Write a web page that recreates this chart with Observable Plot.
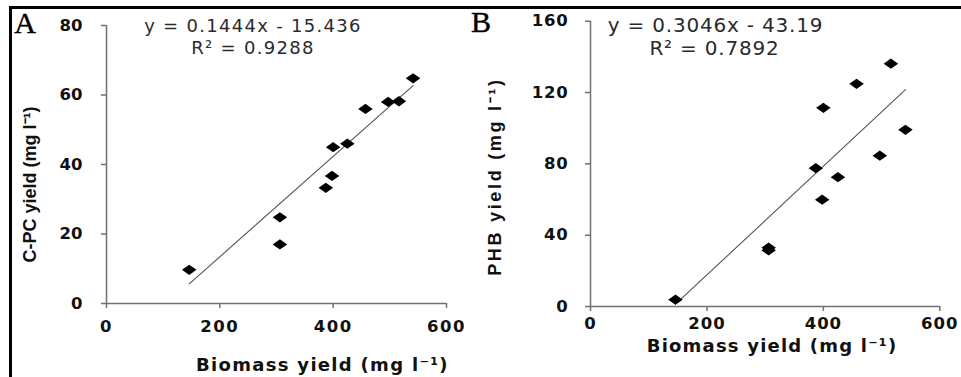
<!DOCTYPE html>
<html>
<head>
<meta charset="utf-8">
<script src="https://cdn.jsdelivr.net/npm/d3@7"></script>
<script src="https://cdn.jsdelivr.net/npm/@observablehq/plot@0.6"></script>
<style>
  html, body { margin: 0; padding: 0; background: #fff; }
  #root { position: relative; width: 961px; height: 377px; background: #fff; overflow: hidden; }
  #frame { position: absolute; left: 9px; top: 6px; width: 960px; height: 380px;
           border-top: 3px solid #000; border-left: 3px solid #000; }
  #pa { position: absolute; left: 0; top: 0; }
  #pb { position: absolute; left: 450px; top: 0; }
  svg { overflow: visible; }
</style>
</head>
<body>
<div id="root">
  <div id="frame"></div>
  <div id="pa"></div>
  <div id="pb"></div>
</div>
<script>
// ---- data ----
const biomass = [146, 306, 306, 387, 398, 400, 425, 457, 497, 516, 541];
const cpcYield = [9.7, 24.8, 17.0, 33.3, 36.7, 45.0, 46.0, 56.0, 58.0, 58.2, 64.8];
const phbYield = [3.8, 33.0, 31.5, 77.6, 59.9, 111.4, 72.5, 124.9, 84.6, 136.2, 99.1];

const xTicks = [0, 200, 400, 600];
const cpcTicks = [0, 20, 40, 60, 80];
const phbTicks = [0, 40, 80, 120, 160];

const slopes = [0.1444, 0.3046];
const intercepts = [-15.436, -43.19];
const eqLabels = ["y = 0.1444x - 15.436", "y = 0.3046x - 43.19"];
const r2Labels = ["R\u00B2 = 0.9288", "R\u00B2 = 0.7892"];
const yLabels = ["C-PC yield (mg l\u207B\u00B9)", "PHB yield (mg l\u207B\u00B9)"];
const xLabel = "Biomass yield (mg l\u207B\u00B9)";
const panelLetters = ["A", "B"];

// wide diamond marker
const wideDiamond = {
  draw(ctx, size) {
    const s = Math.sqrt(size);
    const w = s * 0.82, h = s * 0.58;
    ctx.moveTo(-w, 0); ctx.lineTo(0, -h); ctx.lineTo(w, 0); ctx.lineTo(0, h); ctx.closePath();
  }
};

const axisColor = "#707070";

function panel(o) {
  const lineData = d3.extent(biomass).map(x => ({x, y: o.slope * x + o.intercept}));
  const pts = biomass.map((x, i) => ({x, y: o.ys[i]}));
  const svg = Plot.plot({
    width: o.width, height: 377,
    marginLeft: o.ml, marginRight: o.mr, marginTop: o.mt, marginBottom: o.mb,
    style: {background: "transparent", fontFamily: "'DejaVu Sans', sans-serif", fontSize: "16px", color: "#111", overflow: "visible"},
    x: {domain: [0, 600]},
    y: {domain: o.yDomain},
    marks: [
      Plot.ruleX([0], {stroke: axisColor, strokeWidth: 1.5}),
      Plot.ruleY([0], {stroke: axisColor, strokeWidth: 1.5}),
      Plot.axisX({ticks: xTicks, tickSize: 5, tickPadding: o.xPad, stroke: axisColor, strokeWidth: 1.5,
        fill: "#111", fontWeight: "bold", fontSize: 16.5, fontFamily: "DejaVu Sans", label: null}),
      Plot.axisY({ticks: o.yTicks, tickSize: 5, tickPadding: o.yPad, stroke: axisColor, strokeWidth: 1.5,
        fill: "#111", fontWeight: "bold", fontSize: 16.5, fontFamily: "DejaVu Sans", label: null}),
      Plot.line(lineData, {x: "x", y: "y", stroke: "#555", strokeWidth: 1.1}),
      Plot.dot(pts, {x: "x", y: "y", r: 5, symbol: wideDiamond, fill: "#000", stroke: "none"}),
      Plot.text([o.letter], {frameAnchor: "top-left", dx: o.letterD[0], dy: o.letterD[1], textAnchor: "middle", lineAnchor: "middle",
        fontFamily: "'Liberation Serif', serif", fontSize: 30, fill: "#000", stroke: "#000", strokeWidth: 0.4}),
      Plot.text([o.ylab], {frameAnchor: "left", dx: o.ylabD[0], dy: o.ylabD[1], rotate: -90, textAnchor: "middle", lineAnchor: "middle",
        fontFamily: "'Liberation Sans', Arial, sans-serif", fontWeight: "bold", fontSize: 18, fill: "#111"}),
      Plot.text([xLabel], {frameAnchor: "bottom", dx: o.xlabD[0], dy: o.xlabD[1], textAnchor: "middle", lineAnchor: "middle",
        fontFamily: "'DejaVu Sans', sans-serif", fontWeight: "bold", fontSize: 18, fill: "#111"}),
      Plot.text([o.eq], {frameAnchor: "top-left", dx: o.eqD[0], dy: o.eqD[1], textAnchor: "middle", lineAnchor: "middle",
        fontFamily: "'DejaVu Sans', sans-serif", fontSize: o.eqSize, fill: "#2a2a2a"}),
      Plot.text([o.r2], {frameAnchor: "top-left", dx: o.r2D[0], dy: o.r2D[1], textAnchor: "middle", lineAnchor: "middle",
        fontFamily: "'DejaVu Sans', sans-serif", fontSize: o.eqSize, fill: "#2a2a2a"})
    ]
  });
  // letter spacing tweaks
  svg.querySelectorAll("text").forEach(t => {
    const s = t.textContent;
    if (s === xLabel) t.setAttribute("letter-spacing", o.xlabSpacing);
    else if (s === o.eq || s === o.r2) t.setAttribute("letter-spacing", o.eqSpacing);
    else if (s === o.ylab) t.setAttribute("letter-spacing", o.ylabSpacing);
  });
  svg.querySelectorAll('g[aria-label="x-axis tick label"] text').forEach(t => t.setAttribute("letter-spacing", o.xTickSpacing));
  svg.querySelectorAll('g[aria-label="y-axis tick label"] text').forEach(t => t.setAttribute("letter-spacing", o.yTickSpacing));
  return svg;
}

document.getElementById("pa").appendChild(panel({
  width: 480, ml: 106, mr: 34, mt: 25, mb: 74,
  yDomain: [0, 80], yTicks: cpcTicks, ys: cpcYield,
  slope: slopes[0], intercept: intercepts[0],
  eq: eqLabels[0], r2: r2Labels[0], ylab: yLabels[0], letter: panelLetters[0],
  xPad: 12, yPad: 19,
  letterD: [-81.5, -2.5], ylabD: [-76, 20], xlabD: [46, 62],
  eqD: [146.5, 1], r2D: [146.5, 23], eqSize: 18, eqSpacing: "1.3",
  xlabSpacing: "1.3", ylabSpacing: "0", xTickSpacing: "1.5", yTickSpacing: "0"
}));

document.getElementById("pb").appendChild(panel({
  width: 511, ml: 140, mr: 21.7, mt: 20.7, mb: 71,
  yDomain: [0, 160], yTicks: phbTicks, ys: phbYield,
  slope: slopes[1], intercept: intercepts[1],
  eq: eqLabels[1], r2: r2Labels[1], ylab: yLabels[1], letter: panelLetters[1],
  xPad: 6, yPad: 17,
  letterD: [-109.5, 1.3], ylabD: [-95, 12.7], xlabD: [6.9, 40],
  eqD: [125, 4.3], r2D: [124, 27.3], eqSize: 20, eqSpacing: "0.8",
  xlabSpacing: "1.2", ylabSpacing: "2.7", xTickSpacing: "1", yTickSpacing: "0.8"
}));
</script>
</body>
</html>
